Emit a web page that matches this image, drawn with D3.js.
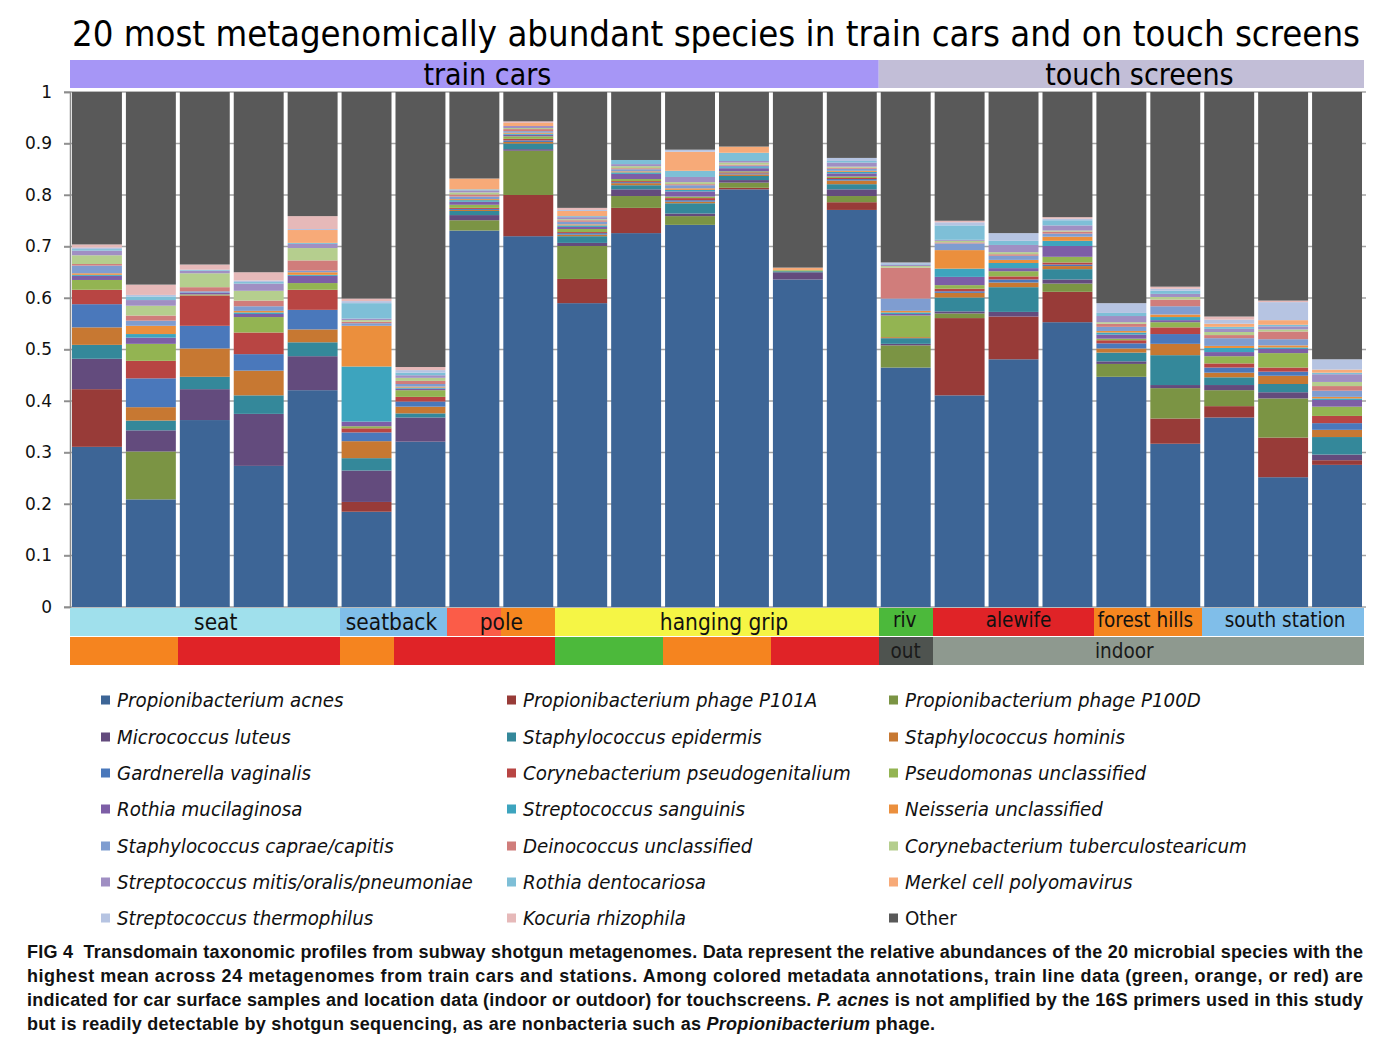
<!DOCTYPE html>
<html>
<head>
<meta charset="utf-8">
<script src="https://cdn.jsdelivr.net/npm/d3@7/dist/d3.min.js"></script>
<style>
  html, body { margin: 0; padding: 0; background: #fff; }
  svg { display: block; }
  .cond { font-family: "DejaVu Sans Condensed", "DejaVu Sans", sans-serif; font-stretch: condensed; }
</style>
</head>
<body>
<svg id="chart" width="1376" height="1044"></svg>
<script>
// ---------------- DATA ----------------
const samples = d3.range(1, 25).map(i => "S" + i);

const speciesNames = [
  "Propionibacterium acnes", "Propionibacterium phage P101A", "Propionibacterium phage P100D",
  "Micrococcus luteus", "Staphylococcus epidermis", "Staphylococcus hominis",
  "Gardnerella vaginalis", "Corynebacterium pseudogenitalium", "Pseudomonas unclassified",
  "Rothia mucilaginosa", "Streptococcus sanguinis", "Neisseria unclassified",
  "Staphylococcus caprae/capitis", "Deinococcus unclassified", "Corynebacterium tuberculostearicum",
  "Streptococcus mitis/oralis/pneumoniae", "Rothia dentocariosa", "Merkel cell polyomavirus",
  "Streptococcus thermophilus", "Kocuria rhizophila", "Other"
];

const speciesColors = [
  "#3d6596", "#983b38", "#7b9444", "#634b7d", "#34889a", "#c77832", "#4a78bb",
  "#b84543", "#93b452", "#7d5ea6", "#3da4be", "#eb8f3d", "#7f9dd0", "#d07d7b",
  "#b5ce8e", "#a08fc3", "#7ebfd7", "#f7aa78", "#b6c4e2", "#e6b9b9", "#595959"
];

// relative abundance per species, one value per sample (24 samples)
const pAcnes      = [0.311,0.209,0.363,0.274,0.421,0.185,0.321,0.731,0.720,0.590,0.726,0.742,0.811,0.636,0.771,0.465,0.411,0.481,0.553,0.447,0.317,0.368,0.252,0.276];
const phageP101A  = [0.112,0,0,0,0,0.019,0,0,0.080,0.047,0.049,0,0.003,0,0.015,0,0.150,0.083,0.059,0,0.049,0.022,0.077,0.009];
const phageP100D  = [0,0.093,0,0,0,0,0,0.020,0.086,0.064,0.023,0.017,0.010,0,0.012,0.043,0.009,0,0.016,0.025,0.059,0.031,0.076,0];
const mLuteus     = [0.059,0.041,0.060,0.101,0.066,0.061,0.047,0.010,0.003,0.006,0.013,0.005,0.005,0.014,0.013,0.003,0.004,0.009,0.008,0.005,0.006,0.010,0.012,0.011];
const sEpidermis  = [0.027,0.019,0.024,0.036,0.027,0.024,0.008,0.008,0.011,0.013,0.008,0.020,0.008,0.002,0.010,0.011,0.027,0.048,0.020,0.017,0.058,0.015,0.016,0.034];
const sHominis    = [0.034,0.026,0.055,0.048,0.025,0.033,0.013,0.002,0.003,0.003,0.004,0.003,0.003,0,0.007,0.002,0.009,0.009,0.006,0.008,0.022,0.009,0.016,0.014];
const gVaginalis  = [0.045,0.056,0.044,0.032,0.038,0.017,0.010,0.002,0.003,0.003,0.002,0.003,0.002,0,0.003,0,0.003,0.006,0.003,0.010,0.019,0.010,0.008,0.013];
const cPseudogen  = [0.028,0.034,0.059,0.042,0.039,0.008,0.009,0.002,0.003,0.002,0.002,0.004,0.002,0,0.002,0,0.005,0.006,0.004,0.006,0.013,0.008,0.008,0.014];
const pseudomonas = [0.019,0.033,0.002,0.030,0.013,0.004,0.013,0.006,0.005,0.006,0.004,0.003,0.002,0.002,0.003,0.042,0.007,0.010,0.011,0.003,0.010,0.014,0.028,0.018];
const rMucilag    = [0.008,0.012,0.003,0.006,0.014,0.009,0.003,0.006,0.003,0.004,0.010,0.010,0.006,0,0.006,0.003,0.016,0.006,0.021,0.008,0.004,0.008,0.008,0.013];
const sSanguinis  = [0.002,0.007,0,0.003,0.002,0.107,0.002,0.003,0.002,0.003,0.003,0.003,0.002,0,0.003,0.003,0.016,0.010,0.010,0.004,0.006,0.008,0.003,0.003];
const neisseria   = [0.003,0.016,0,0.003,0.005,0.079,0.002,0.002,0.002,0.002,0.002,0.003,0,0,0.002,0.003,0.036,0.006,0.008,0.003,0.005,0.004,0.004,0.003];
const sCaprae     = [0.015,0.010,0.003,0.009,0.003,0.005,0.005,0.005,0.003,0.005,0.004,0.006,0.003,0,0.004,0.024,0.013,0.008,0.006,0.008,0.016,0.015,0.012,0.012];
const deinococcus = [0.003,0.010,0.008,0.011,0.020,0.003,0.006,0.004,0.004,0.003,0.002,0.002,0.002,0,0.002,0.060,0.002,0.003,0.004,0.006,0.013,0.006,0.015,0.009];
const cTuberculo  = [0.017,0.019,0.027,0.019,0.024,0.003,0.006,0.004,0.002,0.002,0.004,0.004,0.004,0,0.002,0.003,0.003,0.004,0.002,0.003,0.005,0.006,0.004,0.008];
const sMitis      = [0.009,0.011,0.005,0.014,0.008,0.003,0.005,0.004,0.004,0.004,0.004,0.010,0.003,0,0.008,0.003,0.002,0.014,0.010,0.012,0.006,0.006,0.006,0.015];
const rDentocar   = [0.003,0.007,0.002,0.003,0.002,0.030,0.005,0.002,0,0.002,0.008,0.012,0.016,0,0.003,0.001,0.028,0.008,0.010,0.006,0.006,0.004,0.003,0.003];
const merkel      = [0,0,0,0,0.025,0,0,0.021,0.006,0.010,0,0.037,0.012,0.005,0,0,0,0,0,0,0,0.006,0.009,0.006];
const sThermo     = [0.003,0.003,0,0.003,0.002,0.004,0.005,0,0,0.002,0,0.004,0,0,0.006,0.003,0.006,0.015,0.003,0.019,0.004,0.008,0.035,0.020];
const kocuria     = [0.006,0.020,0.010,0.016,0.025,0.005,0.006,0,0.003,0.004,0,0,0,0,0,0,0.003,0,0.003,0,0.004,0.006,0.003,0];

const speciesSeries = [pAcnes, phageP101A, phageP100D, mLuteus, sEpidermis, sHominis, gVaginalis,
  cPseudogen, pseudomonas, rMucilag, sSanguinis, neisseria, sCaprae, deinococcus, cTuberculo,
  sMitis, rDentocar, merkel, sThermo, kocuria];

const yTicks = [0, 0.1, 0.2, 0.3, 0.4, 0.5, 0.6, 0.7, 0.8, 0.9, 1];

// sample type header (first/last sample index)
const typeLabels = ["train cars", "touch screens"];
const typeStart = [0, 15];
const typeEnd = [14, 23];
const typeColors = ["#a696f6", "#c2bed7"];

// location row
const locLabels = ["seat", "seatback", "pole", "hanging grip", "riv", "alewife", "forest hills", "south station"];
const locStart = [0, 5, 7, 9, 15, 16, 19, 21];
const locEnd = [4, 6, 8, 14, 15, 18, 20, 23];
// per-sample fill colours of the location row
const locCellColors = ["#a0e0ec","#a0e0ec","#a0e0ec","#a0e0ec","#a0e0ec","#80bee9","#80bee9","#fb5c48","#f5861f",
  "#f5f545","#f5f545","#f5f545","#f5f545","#f5f545","#f5f545","#4cb93b","#e02327","#e02327","#e02327",
  "#f5861f","#f5861f","#80bee9","#80bee9","#80bee9"];

// train line / indoor-outdoor row
const lineCellColors = ["#f5841f","#f5841f","#e02327","#e02327","#e02327","#f5841f","#e02327","#e02327","#e02327",
  "#4cb93b","#4cb93b","#f5841f","#f5841f","#e02327","#e02327","#4e534f","#8e998f","#8e998f","#8e998f",
  "#8e998f","#8e998f","#8e998f","#8e998f","#8e998f"];
const envLabels = ["out", "indoor"];
const envStart = [15, 16];
const envEnd = [15, 23];

const captionLines = [
  [["FIG 4", "bold"], ["  Transdomain taxonomic profiles from subway shotgun metagenomes. Data represent the relative abundances of the 20 microbial species with the", "n"]],
  [["highest mean across 24 metagenomes from train cars and stations. Among colored metadata annotations, train line data (green, orange, or red) are", "n"]],
  [["indicated for car surface samples and location data (indoor or outdoor) for touchscreens. ", "n"], ["P. acnes", "i"], [" is not amplified by the 16S primers used in this study", "n"]],
  [["but is readily detectable by shotgun sequencing, as are nonbacteria such as ", "n"], ["Propionibacterium", "i"], [" phage.", "n"]]
];

// ---------------- CHART ----------------
const svg = d3.select("#chart");

const x = d3.scaleBand().domain(d3.range(samples.length)).range([70, 1364]).paddingInner(0.074).paddingOuter(0.037);
const y = d3.scaleLinear().domain([0, 1]).range([607, 92]);
const step = x.step();
const gap = step - x.bandwidth();
const cellL = i => (i === 0 ? 70 : x(i) - gap / 2);
const cellR = i => (i === samples.length - 1 ? 1364 : x(i) + x.bandwidth() + gap / 2);

// title
svg.append("text").attr("class", "cond")
  .attr("x", 72).attr("y", 46)
  .attr("font-size", 36).attr("fill", "#000")
  .attr("textLength", 1288).attr("lengthAdjust", "spacingAndGlyphs")
  .text("20 most metagenomically abundant species in train cars and on touch screens");

// header
const typeShift = [13, 18];
typeLabels.forEach((lab, k) => {
  const x0 = cellL(typeStart[k]), x1 = cellR(typeEnd[k]);
  svg.append("rect").attr("x", x0).attr("y", 60).attr("width", x1 - x0).attr("height", 28).attr("fill", typeColors[k]);
  svg.append("text").attr("class", "cond").attr("x", (x0 + x1) / 2 + typeShift[k]).attr("y", 85)
    .attr("text-anchor", "middle").attr("font-size", 30).attr("fill", "#000").text(lab);
});

// gridlines
svg.append("g").selectAll("line").data(yTicks).join("line")
  .attr("x1", 64).attr("x2", 1366).attr("y1", d => y(d)).attr("y2", d => y(d))
  .attr("stroke", "#a3a3a3").attr("stroke-width", 1.5);

// stacked data
const keys = d3.range(21);
const rows = samples.map((s, i) => {
  const r = {};
  let sum = 0;
  speciesSeries.forEach((arr, k) => { r[k] = arr[i]; sum += arr[i]; });
  r[20] = Math.max(0, 1 - sum);
  return r;
});
const stacked = d3.stack().keys(keys)(rows);

svg.append("g").selectAll("g").data(stacked).join("g")
  .attr("fill", (d, k) => speciesColors[k])
  .selectAll("rect").data(d => d).join("rect")
  .attr("x", (d, i) => x(i))
  .attr("width", x.bandwidth())
  .attr("y", d => y(d[1]))
  .attr("height", d => Math.max(0, y(d[0]) - y(d[1])));

// y axis
const yAxis = d3.axisLeft(y).tickValues(yTicks).tickFormat(d3.format("")).tickSize(6).tickPadding(12);
const ga = svg.append("g").attr("transform", "translate(70,0)").call(yAxis);
ga.select(".domain").attr("stroke", "#8c8c8c").attr("stroke-width", 1.5);
ga.selectAll(".tick line").attr("stroke", "#8c8c8c").attr("stroke-width", 1.5);
ga.selectAll(".tick text").attr("font-family", "DejaVu Sans, sans-serif").attr("font-size", 17).attr("fill", "#111");

// location row
svg.append("g").selectAll("rect").data(locCellColors).join("rect")
  .attr("x", (d, i) => cellL(i)).attr("width", (d, i) => cellR(i) - cellL(i))
  .attr("y", 608).attr("height", 28).attr("fill", d => d).attr("shape-rendering", "crispEdges");
const locShift = [11, -2, 0, 7, -1, 5, -3, 2];
locLabels.forEach((lab, k) => {
  const cx = (cellL(locStart[k]) + cellR(locEnd[k])) / 2 + locShift[k];
  const isTrain = locStart[k] < 15;
  svg.append("text").attr("class", "cond").attr("x", cx).attr("y", isTrain ? 630 : 627)
    .attr("text-anchor", "middle").attr("font-size", isTrain ? 22.5 : 20.5).attr("fill", "#111").text(lab);
});

// train line row
svg.append("g").selectAll("rect").data(lineCellColors).join("rect")
  .attr("x", (d, i) => cellL(i)).attr("width", (d, i) => cellR(i) - cellL(i))
  .attr("y", 637).attr("height", 28).attr("fill", d => d).attr("shape-rendering", "crispEdges");
const envShift = [0, -24];
envLabels.forEach((lab, k) => {
  const cx = (cellL(envStart[k]) + cellR(envEnd[k])) / 2 + envShift[k];
  svg.append("text").attr("class", "cond").attr("x", cx).attr("y", 658)
    .attr("text-anchor", "middle").attr("font-size", 20.5).attr("fill", "#1a1a1a").text(lab);
});

// legend
const legColX = [101, 507, 889];
const legRowY = [700, 737, 773, 809, 846, 882, 918];
const leg = svg.append("g").selectAll("g").data(speciesNames).join("g")
  .attr("transform", (d, i) => `translate(${legColX[i % 3]},${legRowY[Math.floor(i / 3)]})`);
leg.append("rect").attr("x", 0).attr("y", -4.5).attr("width", 9).attr("height", 9)
  .attr("fill", (d, i) => speciesColors[i]);
leg.append("text").attr("class", "cond").attr("x", 16).attr("y", 7)
  .attr("font-size", 20.3).attr("font-style", (d, i) => i === 20 ? "normal" : "italic")
  .attr("fill", "#111").text(d => d);

// caption
const capY = [958, 982, 1006, 1030];
const capW = [1336, 1336, 1336, 908];
captionLines.forEach((parts, li) => {
  const t = svg.append("text").attr("x", 27).attr("y", capY[li])
    .attr("font-family", "'Liberation Sans Narrow', 'Arial Narrow', sans-serif")
    .attr("font-size", 18).attr("font-weight", "bold").attr("fill", "#111")
    .attr("textLength", capW[li]).attr("lengthAdjust", "spacing")
    .attr("xml:space", "preserve");
  parts.forEach(([s, st]) => {
    const ts = t.append("tspan").text(s);
    if (st === "i") ts.attr("font-style", "italic");
    if (st === "bold") ts.attr("font-weight", 900);
  });
});
</script>
</body>
</html>
